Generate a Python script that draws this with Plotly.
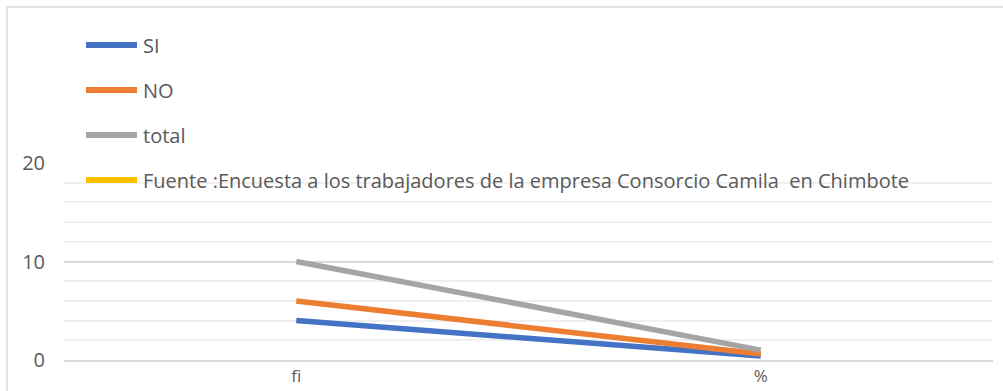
import plotly.graph_objects as go

# Survey results: absolute frequency (fi) and proportion (%)
categories = ["fi", "%"]
si_values = [4, 0.4]
no_values = [6, 0.6]
total_values = [10, 1]
series_names = ["SI", "NO", "total", "Fuente :Encuesta a los trabajadores de la empresa Consorcio Camila  en Chimbote"]
series_colors = ["#4472C4", "#ED7D31", "#A5A5A5", "#FFC000"]
y_ticks = [0, 10, 20]

W, H = 1003, 391
M_L, M_R, M_T, M_B = 64, 10, 163, 31
PLOT_H = H - M_T - M_B
PLOT_W = W - M_L - M_R
TEXT_COLOR = "#595959"
FONT = "Open Sans"
FSIZE = 20


def py(px):
    # page pixel row -> paper y
    return (H - M_B - px) / PLOT_H


def px_x(px):
    # page pixel column -> paper x
    return (px - M_L) / PLOT_W


fig = go.Figure()
for name, vals, color in zip(series_names[:3], [si_values, no_values, total_values], series_colors[:3]):
    fig.add_trace(go.Scatter(
        x=categories, y=vals, name=name, mode="lines",
        line=dict(color=color, width=5.5), showlegend=False,
    ))

# Legend drawn as sample bars with labels
shapes = []
annotations = []
for i, (name, color) in enumerate(zip(series_names, series_colors)):
    yc = 45 + 45 * i
    shapes.append(dict(
        type="line", xref="paper", yref="paper",
        x0=px_x(86), x1=px_x(137), y0=py(yc), y1=py(yc),
        line=dict(color=color, width=6),
    ))
    annotations.append(dict(
        text=name, xref="paper", yref="paper",
        x=px_x(141), y=py(yc), xanchor="left", yanchor="middle",
        showarrow=False, font=dict(family=FONT, size=FSIZE, color=TEXT_COLOR),
    ))

# Chart frame
shapes.append(dict(
    type="rect", xref="paper", yref="paper",
    x0=px_x(7), x1=px_x(W + 20), y0=py(H + 20), y1=py(7),
    line=dict(color="#D9D9D9", width=1.5), layer="below",
))

fig.update_layout(
    template="none",
    width=W, height=H,
    margin=dict(l=M_L, r=M_R, t=M_T, b=M_B),
    paper_bgcolor="white", plot_bgcolor="white",
    showlegend=False,
    font=dict(family=FONT, size=FSIZE, color=TEXT_COLOR),
    shapes=shapes, annotations=annotations,
    xaxis=dict(
        type="category", categoryorder="array", categoryarray=categories,
        range=[-0.5, 1.5], showgrid=False, zeroline=False,
        showline=True, linecolor="#D9D9D9", linewidth=1.5,
        ticks="", ticklabelstandoff=0, automargin=False,
        tickfont=dict(family=FONT, size=17, color=TEXT_COLOR),
    ),
    yaxis=dict(
        range=[0, 20], tickvals=y_ticks, showgrid=True, gridcolor="#D9D9D9",
        gridwidth=1.5, zeroline=False, showline=False, ticks="",
        ticklabelstandoff=18, automargin=False,
        tickfont=dict(family=FONT, size=FSIZE, color=TEXT_COLOR),
        minor=dict(dtick=2, showgrid=True, gridcolor="#F0F0F0", gridwidth=1.5),
    ),
)

fig.write_html("out.html")
